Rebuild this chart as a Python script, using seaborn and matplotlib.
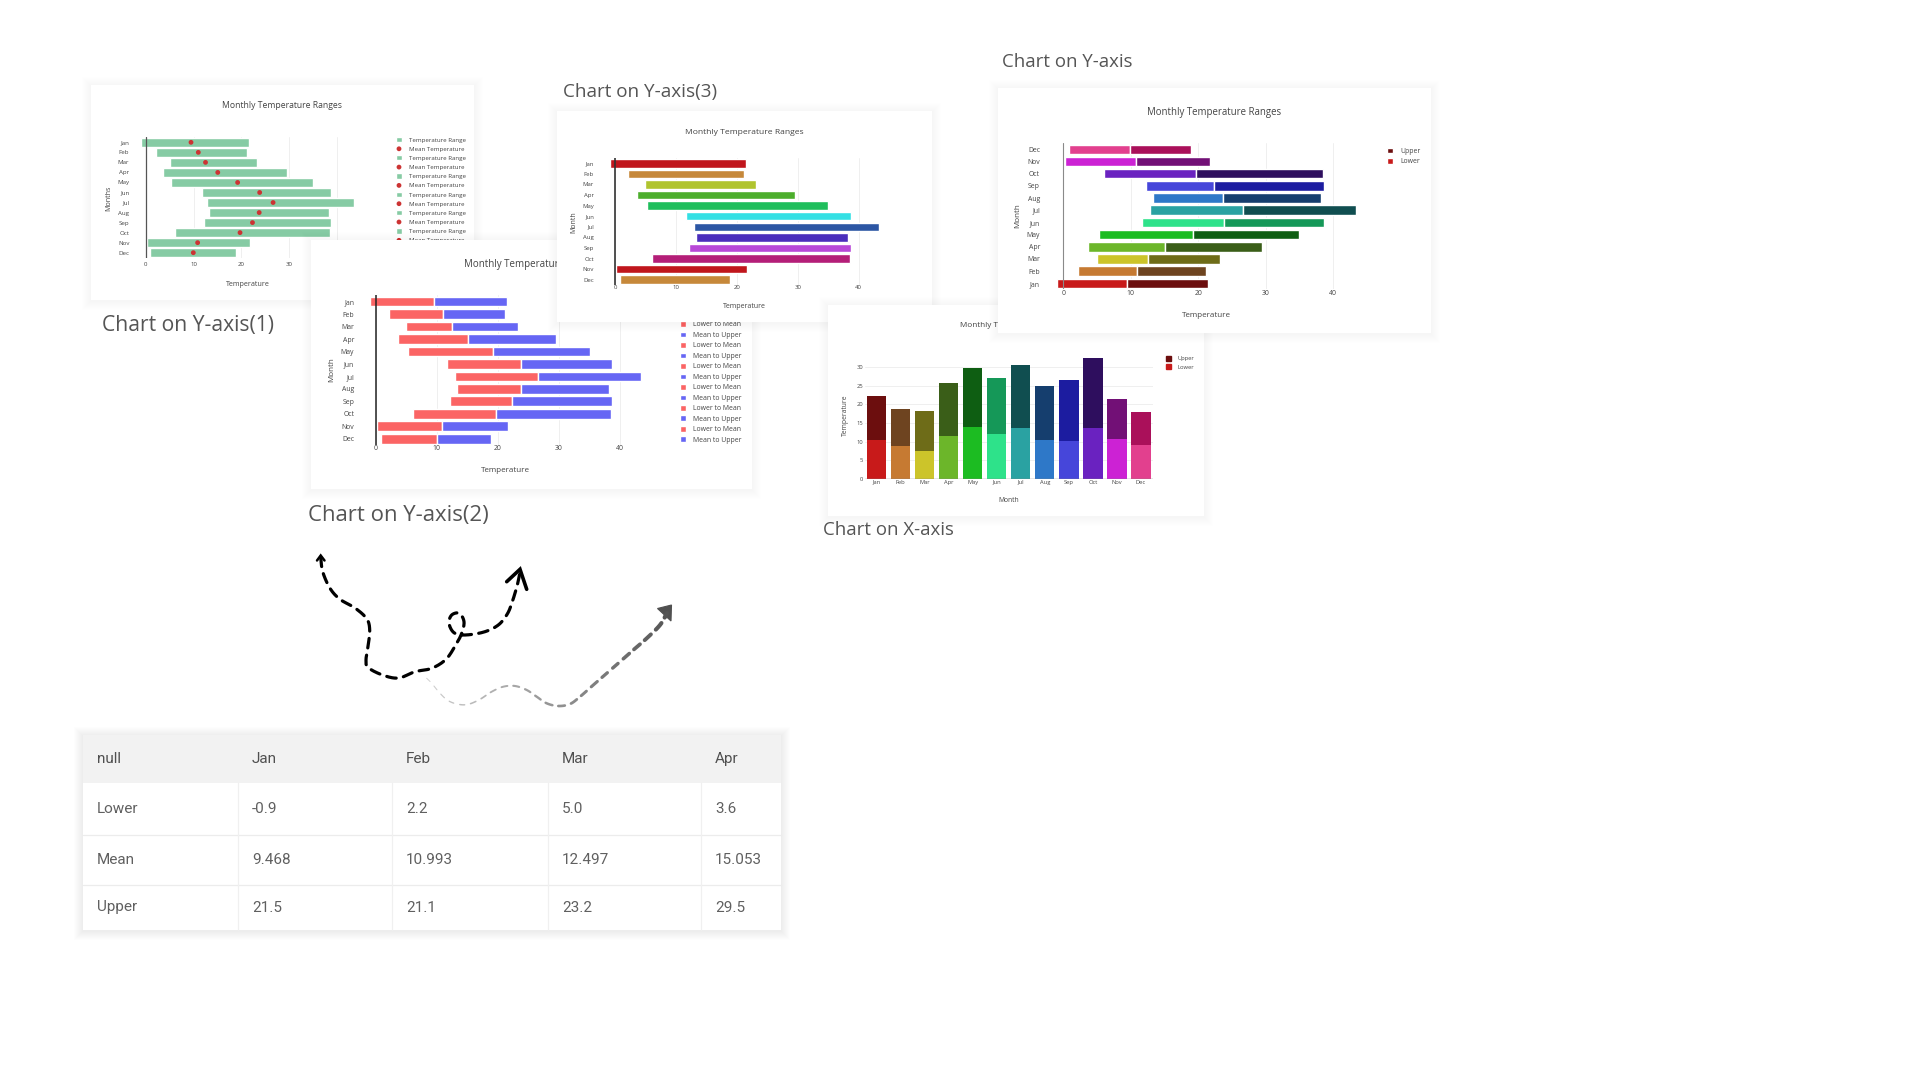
import numpy as np
import matplotlib
matplotlib.use("Agg")
import matplotlib.pyplot as plt
import seaborn as sns
from matplotlib.patches import Rectangle, Polygon

sns.set_theme(style="white")
plt.rcParams['font.family'] = ['Open Sans', 'DejaVu Sans']

# ---------------- data ----------------
months = ["Jan", "Feb", "Mar", "Apr", "May", "Jun", "Jul", "Aug", "Sep", "Oct", "Nov", "Dec"]
lower = [-0.9, 2.2, 5.0, 3.6, 5.3, 11.7, 12.9, 13.3, 12.2, 6.05, 0.2, 0.85]
mean = [9.468, 10.993, 12.497, 15.053, 19.2, 23.8, 26.6, 23.7, 22.3, 19.7, 10.85, 9.95]
upper = [21.5, 21.1, 23.2, 29.5, 35.0, 38.7, 43.4, 38.2, 38.7, 38.5, 21.7, 18.9]

colors_single = ["#c0161c", "#c6883a", "#b0c42e", "#4cae2c", "#1fbe5c", "#34e0e4",
                 "#2c56a4", "#4a2ebc", "#b848d8", "#b41e78", "#c0161c", "#c6883a"]
colors_light = ["#c81a1a", "#c67a32", "#ccc42a", "#6cb62a", "#1cbc22", "#2ee28a",
                "#2aa2a2", "#2e78c8", "#4646da", "#6a22c0", "#cc22d4", "#e2408e"]
colors_dark = ["#6c0e0e", "#6e4420", "#6e6c18", "#3a5e18", "#0e5e12", "#159858",
               "#104e50", "#153e6e", "#1c1ca0", "#2e0e5e", "#721076", "#aa105a"]

table_header = ["null", "Jan", "Feb", "Mar", "Apr"]
table_rows = ["Lower", "Mean", "Upper"]
chart_title = "Monthly Temperature Ranges"

lower_a = np.array(lower)
mean_a = np.array(mean)
upper_a = np.array(upper)
pos = np.arange(len(months))

# ---------------- helpers ----------------
W, H = 1920, 1080
fig = plt.figure(figsize=(19.2, 10.8), dpi=100)
fig.patch.set_facecolor("white")
TXT = "#444444"


def rect_fig(x0, y0, x1, y1):
    return [x0 / W, 1 - y1 / H, (x1 - x0) / W, (y1 - y0) / H]


def fpt(x, y):
    return (x / W, 1 - y / H)


def shadow(ax, x0, y0, x1, y1, m=9, a=0.0045):
    for i in range(m, 0, -1):
        ax.add_patch(Rectangle((x0 - i, y0 - i + 1), (x1 - x0) + 2 * i, (y1 - y0) + 2 * i,
                               facecolor="black", alpha=a, lw=0))


def make_card(x0, y0, x1, y1, z, m=14):
    cax = fig.add_axes(rect_fig(x0 - m, y0 - m, x1 + m, y1 + m), zorder=z)
    cax.set_xlim(x0 - m, x1 + m)
    cax.set_ylim(y1 + m, y0 - m)
    cax.axis("off")
    shadow(cax, x0, y0, x1, y1)
    cax.add_patch(Rectangle((x0, y0), x1 - x0, y1 - y0, facecolor="white", lw=0))
    return cax


def make_plot(x0, y0, x1, y1, z):
    ax = fig.add_axes(rect_fig(x0, y0, x1, y1), zorder=z)
    ax.set_facecolor("none")
    for s in ax.spines.values():
        s.set_visible(False)
    return ax


def style_axes(ax, tick_fs, xpad, ypad):
    ax.tick_params(axis="both", length=0, labelsize=tick_fs, labelcolor=TXT)
    ax.tick_params(axis="x", pad=xpad)
    ax.tick_params(axis="y", pad=ypad)


def labels(ax, title, tpos, xl, xpos, yl, ypos, tfs, afs):
    ax.text(*fpt(*tpos), title, transform=fig.transFigure, ha="center", va="center",
            fontsize=tfs, color=TXT)
    ax.set_xlabel(xl, fontsize=afs, color=TXT)
    ax.xaxis.set_label_coords(*fpt(*xpos), transform=fig.transFigure)
    ax.xaxis.label.set_va("center")
    ax.set_ylabel(yl, fontsize=afs, color=TXT)
    ax.yaxis.set_label_coords(*fpt(*ypos), transform=fig.transFigure)
    ax.yaxis.label.set_va("center")


def place_legend(ax, handles, labs, mx, my0, step, fs, msz, tx, ls_corr=0.0):
    fpx = fs / 0.72
    hl = msz / fpx
    row_h = 1.02 * fpx
    leg = ax.legend(handles, labs, loc="upper left",
                    bbox_to_anchor=fpt(mx - msz / 2, my0 - row_h / 2),
                    bbox_transform=fig.transFigure, borderaxespad=0, borderpad=0,
                    frameon=False, fontsize=fs, handlelength=hl, handleheight=hl,
                    handletextpad=(tx - (mx + msz / 2)) / fpx,
                    labelspacing=step / fpx - 1.02 + ls_corr, labelcolor=TXT, scatterpoints=1)
    return leg


# ---------------- Chart 1 : Y-axis (1) ----------------
make_card(91, 85, 474, 300, 1)
ax1 = make_plot(139.9, 137.3, 364.1, 257.7, 1.1)
ax1.set_axisbelow(True)
ax1.grid(axis="x", color="#ececec", lw=0.6)
b1 = ax1.barh(pos, upper_a - lower_a, left=lower_a, height=0.85, color="#86cba4", zorder=2)
sns.scatterplot(x=mean_a, y=pos, ax=ax1, color="#cc3333", s=12, edgecolor="none",
                zorder=3, legend=False)
dots1 = ax1.collections[-1]
ax1.axvline(0, color="#555555", lw=0.9, zorder=2.5)
ax1.set_xlim(-1.2, 45.6)
ax1.set_ylim(11.5, -0.5)
ax1.set_xticks([0, 10, 20, 30, 40])
ax1.set_yticks(pos)
ax1.set_yticklabels(months)
style_axes(ax1, 4.4, 3.3, 7.6)
labels(ax1, chart_title, (282.5, 106), "Temperature", (248, 284), "Months", (109, 198), 6.24, 5.14)
h1, l1 = [], []
for _ in months:
    h1 += [b1, dots1]
    l1 += ["Temperature Range", "Mean Temperature"]
place_legend(ax1, h1, l1, 399, 140, 9.07, 4.4, 5.7, 409, ls_corr=0.1)

# ---------------- Chart 2 : Y-axis (2) ----------------
make_card(311, 240, 752, 489, 2)
ax2 = make_plot(366.5, 295.4, 657, 444.9, 2.1)
ax2.set_axisbelow(True)
ax2.grid(axis="x", color="#ececec", lw=0.6)
b2l = ax2.barh(pos, mean_a - lower_a, left=lower_a, height=0.78, color="#fb6464", zorder=2)
b2u = ax2.barh(pos, upper_a - mean_a, left=mean_a, height=0.78, color="#6666f4", zorder=2)
ax2.axvline(0, color="#222222", lw=1.1, zorder=2.5)
ax2.set_xlim(-1.5, 46)
ax2.set_ylim(11.5, -0.5)
ax2.set_xticks([0, 10, 20, 30, 40])
ax2.set_yticks(pos)
ax2.set_yticklabels(months)
style_axes(ax2, 4.98, 0.3, 8.8)
labels(ax2, chart_title, (531.5, 265), "Temperature", (505.7, 470.7), "Month", (331.7, 370), 7.05, 5.8)
h2, l2 = [], []
for _ in months:
    h2 += [b2l, b2u]
    l2 += ["Lower to Mean", "Mean to Upper"]
place_legend(ax2, h2, l2, 682.7, 198.8, 10.5, 4.98, 6.2, 693.3, ls_corr=-0.03)

# ---------------- Chart 3 : Y-axis (3) ----------------
make_card(557, 111, 932, 322, 3)
ax3 = make_plot(605.9, 158, 895.2, 285, 3.1)
ax3.set_axisbelow(True)
ax3.grid(axis="x", color="#ececec", lw=0.6)
ax3.barh(pos, upper_a - lower_a, left=lower_a, height=0.8, color=colors_single, zorder=2)
ax3.axvline(0, color="#333333", lw=1.2, zorder=2.5)
ax3.set_xlim(-1.5, 46)
ax3.set_ylim(11.5, -0.5)
ax3.set_xticks([0, 10, 20, 30, 40])
ax3.set_yticks(pos)
ax3.set_yticklabels(months)
style_axes(ax3, 4.3, 0.2, 8.6)
labels(ax3, chart_title, (744.5, 132.3), "Temperature", (744.3, 306.7), "Month", (574, 221.7), 6.08, 5.0)

# ---------------- Chart 5 : X-axis ----------------
make_card(828, 305, 1204, 516, 4)
ax5 = make_plot(864.7, 352.5, 1153, 478.7, 4.1)
ax5.set_axisbelow(True)
ax5.grid(axis="y", color="#ececec", lw=0.6)
sns.barplot(x=months, y=upper_a - lower_a, hue=months, palette=colors_dark, saturation=1,
            width=0.8, legend=False, ax=ax5, zorder=2, linewidth=0)
sns.barplot(x=months, y=mean_a - lower_a, hue=months, palette=colors_light, saturation=1,
            width=0.8, legend=False, ax=ax5, zorder=2.2, linewidth=0)
ax5.axhline(0, color="#888888", lw=1.0, zorder=3)
ax5.set_xlim(-0.5, 11.5)
ax5.set_ylim(0, 34)
ax5.set_yticks([0, 5, 10, 15, 20, 25, 30])
style_axes(ax5, 4.15, 0.6, 1.0)
labels(ax5, chart_title, (1016, 325.7), "Month", (1009, 500.7), "Temperature", (845, 415), 5.88, 4.84)
h5 = [Rectangle((0, 0), 1, 1, color=colors_dark[0]), Rectangle((0, 0), 1, 1, color=colors_light[0])]
place_legend(ax5, h5, ["Upper", "Lower"], 1168.3, 359, 8.7, 4.15, 5.3, 1177.7)

# ---------------- Chart 4 : Y-axis ----------------
make_card(998, 88, 1431, 333, 5)
ax4 = make_plot(1053.2, 143.2, 1373.5, 289.4, 5.1)
ax4.set_axisbelow(True)
ax4.grid(axis="x", color="#ececec", lw=0.6)
b4l = ax4.barh(pos, mean_a - lower_a, left=lower_a, height=0.78, color=colors_light, zorder=2)
b4u = ax4.barh(pos, upper_a - mean_a, left=mean_a, height=0.78, color=colors_dark, zorder=2)
ax4.axvline(0, color="#8a8a8a", lw=0.8, zorder=2.5)
ax4.set_xlim(-1.5, 46)
ax4.set_ylim(-0.5, 11.5)
ax4.set_xticks([0, 10, 20, 30, 40])
ax4.set_yticks(pos)
ax4.set_yticklabels(months)
style_axes(ax4, 4.92, 0.4, 9.5)
labels(ax4, chart_title, (1214.5, 113), "Temperature", (1206.7, 315), "Month", (1017.3, 216), 6.96, 5.74)
place_legend(ax4, [b4u[0], b4l[0]], ["Upper", "Lower"], 1390, 151, 10.3, 4.92, 6.5, 1400.7)

# ---------------- background layer: captions, arrows, table ----------------
bg = fig.add_axes([0, 0, 1, 1], zorder=0)
bg.set_xlim(0, W)
bg.set_ylim(H, 0)
bg.axis("off")

CAP = "#555555"
bg.text(101.7, 325, "Chart on Y-axis(1)", fontsize=15.2, color=CAP, va="center", ha="left")
bg.text(308.3, 515, "Chart on Y-axis(2)", fontsize=15.9, color=CAP, va="center", ha="left")
bg.text(563.3, 91.7, "Chart on Y-axis(3)", fontsize=13.6, color=CAP, va="center", ha="left")
bg.text(1001.7, 61.7, "Chart on Y-axis", fontsize=13.4, color=CAP, va="center", ha="left")
bg.text(823, 530, "Chart on X-axis", fontsize=13.4, color=CAP, va="center", ha="left")


def catmull(pts, n=14):
    P = np.array(pts, float)
    P = np.vstack([P[0], P, P[-1]])
    out = []
    t = np.linspace(0, 1, n, endpoint=False)[:, None]
    for i in range(1, len(P) - 2):
        p0, p1, p2, p3 = P[i - 1], P[i], P[i + 1], P[i + 2]
        out.append(0.5 * ((2 * p1) + (-p0 + p2) * t + (2 * p0 - 5 * p1 + 4 * p2 - p3) * t ** 2
                          + (-p0 + 3 * p1 - 3 * p2 + p3) * t ** 3))
    out.append(P[-2][None])
    return np.vstack(out)


# black dashed doodle arrow
path1 = [(320.7, 557), (322.7, 571.7), (330, 588.3), (340, 599.3), (355, 608), (366.7, 618.7),
         (369.7, 630), (368, 646.7), (366, 660), (368.3, 667.7), (383.3, 675.3), (398.7, 678),
         (415, 671.7), (431.7, 668.3), (446, 659.3), (455.7, 645), (461.7, 633.3), (464, 621.7),
         (459.3, 613.3), (451.7, 615), (449, 623.3), (454, 632.7), (465, 635), (484, 632),
         (498.3, 625), (507.3, 614), (512.3, 601.7), (517.3, 585), (520, 572)]
c1 = catmull(path1)
bg.plot(c1[:, 0], c1[:, 1], color="black", lw=2.3, linestyle=(0, (3.0, 2.3)),
        dash_capstyle="round")
bg.plot([317, 320.7, 324.5], [560.5, 555.5, 560.5], color="black", lw=1.8,
        solid_capstyle="round", solid_joinstyle="miter")
bg.plot([506.7, 520, 526.7], [581.7, 569.3, 589.3], color="black", lw=2.6,
        solid_capstyle="round", solid_joinstyle="miter")

# gray gradient dashed arrow
path2 = [(426.7, 678.3), (431.7, 683.3), (440, 693.3), (448.3, 700.7), (458.3, 704.3),
         (468.3, 704.3), (480, 699.3), (491.7, 691.7), (503.3, 686.7), (515, 686), (526.7, 690),
         (536.7, 696.7), (546.7, 703.3), (558.3, 706), (570, 704), (580, 696.7), (593.3, 685),
         (606.7, 673.3), (620, 661.7), (633.3, 650), (646.7, 638.3), (660, 625), (667, 613)]
c2 = catmull(path2, n=20)
seg = np.hypot(np.diff(c2[:, 0]), np.diff(c2[:, 1]))
s = np.concatenate([[0], np.cumsum(seg)])
total = s[-1]
start = 0.0
while start < total:
    t = start / total
    ld = 5 + 5 * t
    end = min(start + ld, total)
    m = (s >= start) & (s <= end)
    if m.sum() >= 2:
        g = 0.82 - 0.5 * t
        bg.plot(c2[m, 0], c2[m, 1], color=(g, g, g), lw=0.7 + 2.4 * t, solid_capstyle="round")
    start = end + 5.5
bg.add_patch(Polygon([(671.5, 605), (657.5, 608.5), (671, 621)], closed=True,
                     facecolor="#505050", edgecolor="#505050", lw=0.8))

# table
tx = [83, 238, 392, 548, 701, 781]
ty = [735, 783, 835, 885, 930]
shadow(bg, tx[0], ty[0], tx[-1], ty[-1], m=9, a=0.006)
bg.add_patch(Rectangle((tx[0], ty[0]), tx[-1] - tx[0], ty[-1] - ty[0], facecolor="white", lw=0))
bg.add_patch(Rectangle((tx[0], ty[0]), tx[-1] - tx[0], ty[1] - ty[0], facecolor="#f2f2f2", lw=0))
for yy in ty[2:-1]:
    bg.plot([tx[0], tx[-1]], [yy, yy], color="#ececec", lw=0.9)
for xx in tx[1:-1]:
    bg.plot([xx, xx], [ty[1], ty[-1]], color="#f0f0f0", lw=0.9)
tfam = ["Roboto", "DejaVu Sans"]
for j, htxt in enumerate(table_header):
    bg.text(tx[j] + 14, (ty[0] + ty[1]) / 2, htxt, fontsize=11, color="#505050",
            va="center", ha="left", family=tfam)
row_vals = [[f"{v:.1f}" for v in lower[:4]],
            [f"{v:.3f}" for v in mean[:4]],
            [f"{v:.1f}" for v in upper[:4]]]
for i, rname in enumerate(table_rows):
    yc = (ty[i + 1] + ty[i + 2]) / 2
    bg.text(tx[0] + 14, yc, rname, fontsize=11, color="#606060", va="center", ha="left", family=tfam)
    for j, v in enumerate(row_vals[i]):
        bg.text(tx[j + 1] + 14, yc, v, fontsize=11, color="#606060", va="center", ha="left",
                family=tfam)

fig.savefig("out.png", dpi=100, facecolor="white")
